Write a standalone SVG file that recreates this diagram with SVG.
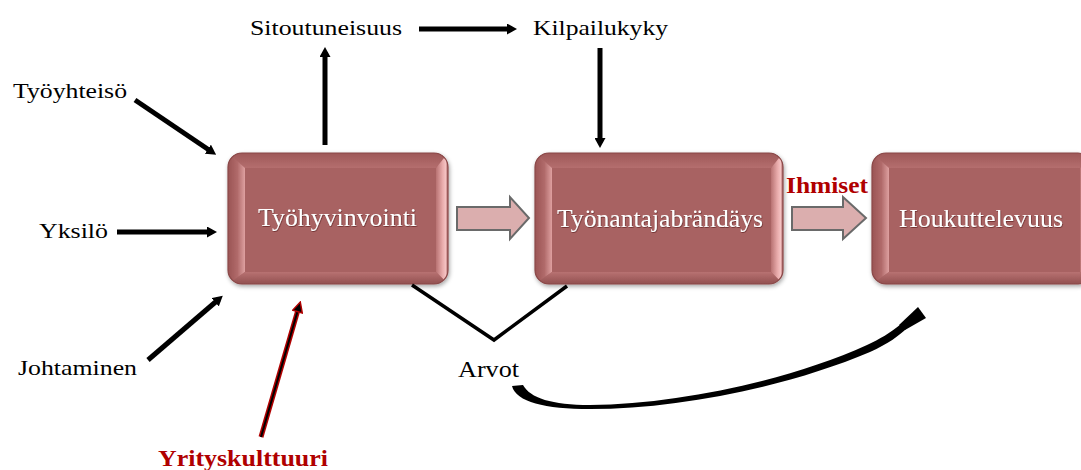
<svg xmlns="http://www.w3.org/2000/svg" width="1081" height="470" viewBox="0 0 1081 470">
  <style>
    .lbl { font-family: "Liberation Serif", "Times New Roman", serif; font-size: 22px; fill: #000; }
    .red { font-family: "Liberation Serif", "Times New Roman", serif; font-size: 24px; font-weight: bold; fill: #B00000; }
    .boxtxt { font-family: "Liberation Serif", "Times New Roman", serif; font-size: 25px; fill: #fff; filter: url(#txtShadow); }
    .face { fill: #A86262; }
    .rim { fill: none; stroke: #8A4848; stroke-width: 1.2; }
    .bl { fill: url(#gLeft); }
    .bt { fill: url(#gTop); }
    .br { fill: url(#gRight); }
    .bb { fill: url(#gBottom); }
    .conn { stroke: #000; stroke-width: 5; fill: none; marker-end: url(#head); }
    .block { fill: #DBAEAE; stroke: #6A6A6A; stroke-width: 2; stroke-linejoin: miter; }
  </style>
  <defs>
    <marker id="head" viewBox="0 0 10 11" refX="5" refY="5.5" markerWidth="10" markerHeight="11" markerUnits="userSpaceOnUse" orient="auto">
      <path d="M0,0 L10,5.5 L0,11 Z" fill="#000"/>
    </marker>
    <marker id="headRed" viewBox="0 0 12 12" refX="5" refY="6" markerWidth="12" markerHeight="12" markerUnits="userSpaceOnUse" orient="auto">
      <path d="M1,1 L11,6 L1,11 Z" fill="#000" stroke="#B00000" stroke-width="1.5"/>
    </marker>
    <linearGradient id="gLeft" x1="0" y1="0" x2="1" y2="0">
      <stop offset="0" stop-color="#9A5454"/>
      <stop offset="0.55" stop-color="#B06A6A"/>
      <stop offset="1" stop-color="#DEA0A0"/>
    </linearGradient>
    <linearGradient id="gTop" x1="0" y1="0" x2="0" y2="1">
      <stop offset="0" stop-color="#9E5858"/>
      <stop offset="1" stop-color="#B46E6E"/>
    </linearGradient>
    <linearGradient id="gRight" x1="0" y1="0" x2="1" y2="0">
      <stop offset="0" stop-color="#B87272"/>
      <stop offset="0.55" stop-color="#E9ACAC"/>
      <stop offset="0.8" stop-color="#F4C2C2"/>
      <stop offset="1" stop-color="#A25C5C"/>
    </linearGradient>
    <linearGradient id="gBottom" x1="0" y1="0" x2="0" y2="1">
      <stop offset="0" stop-color="#B87272"/>
      <stop offset="1" stop-color="#925050"/>
    </linearGradient>
    <filter id="boxShadow" x="-10%" y="-10%" width="120%" height="130%">
      <feDropShadow dx="1" dy="2" stdDeviation="2" flood-color="#000" flood-opacity="0.35"/>
    </filter>
    <filter id="txtShadow" x="-5%" y="-20%" width="110%" height="140%">
      <feDropShadow dx="0.6" dy="0.8" stdDeviation="0.5" flood-color="#5A2222" flood-opacity="0.8"/>
    </filter>
    <clipPath id="clip1"><rect x="228" y="153" width="220" height="131" rx="14"/></clipPath>
    <clipPath id="clip2"><rect x="535" y="153" width="248" height="131" rx="14"/></clipPath>
    <clipPath id="clip3"><rect x="872" y="153" width="220" height="131" rx="14"/></clipPath>
  </defs>

  <rect width="1081" height="470" fill="#fff"/>

  <!-- beveled process boxes -->
  <g id="tyohyvinvointi" filter="url(#boxShadow)">
    <g clip-path="url(#clip1)">
      <rect class="face" x="228" y="153" width="220" height="131"/>
      <polygon class="bt" points="228,153 448,153 436,168 245,168"/>
      <polygon class="bl" points="228,153 245,168 245,272 228,284"/>
      <polygon class="br" points="448,153 448,284 436,272 436,168"/>
      <polygon class="bb" points="228,284 245,272 436,272 448,284"/>
    </g>
    <rect class="rim" x="228" y="153" width="220" height="131" rx="14"/>
    <text class="boxtxt" x="258" y="226" textLength="159" lengthAdjust="spacingAndGlyphs">Työhyvinvointi</text>
  </g>

  <g id="tyonantajabrandays" filter="url(#boxShadow)">
    <g clip-path="url(#clip2)">
      <rect class="face" x="535" y="153" width="248" height="131"/>
      <polygon class="bt" points="535,153 783,153 771,168 552,168"/>
      <polygon class="bl" points="535,153 552,168 552,272 535,284"/>
      <polygon class="br" points="783,153 783,284 771,272 771,168"/>
      <polygon class="bb" points="535,284 552,272 771,272 783,284"/>
    </g>
    <rect class="rim" x="535" y="153" width="248" height="131" rx="14"/>
    <text class="boxtxt" x="557" y="227" textLength="206" lengthAdjust="spacingAndGlyphs">Työnantajabrändäys</text>
  </g>

  <g id="houkuttelevuus" filter="url(#boxShadow)">
    <g clip-path="url(#clip3)">
      <rect class="face" x="872" y="153" width="220" height="131"/>
      <polygon class="bt" points="872,153 1092,153 1080,168 889,168"/>
      <polygon class="bl" points="872,153 889,168 889,272 872,284"/>
      <polygon class="br" points="1092,153 1092,284 1080,272 1080,168"/>
      <polygon class="bb" points="872,284 889,272 1080,272 1092,284"/>
    </g>
    <rect class="rim" x="872" y="153" width="220" height="131" rx="14"/>
    <text class="boxtxt" x="899" y="227" textLength="164" lengthAdjust="spacingAndGlyphs">Houkuttelevuus</text>
  </g>

  <!-- free-standing labels -->
  <g id="sitoutuneisuus"><text class="lbl" x="250" y="35" textLength="152" lengthAdjust="spacingAndGlyphs">Sitoutuneisuus</text></g>
  <g id="kilpailukyky"><text class="lbl" x="533" y="35" textLength="135" lengthAdjust="spacingAndGlyphs">Kilpailukyky</text></g>
  <g id="tyoyhteiso"><text class="lbl" x="13" y="98" textLength="114" lengthAdjust="spacingAndGlyphs">Työyhteisö</text></g>
  <g id="yksilo"><text class="lbl" x="39" y="238" textLength="69" lengthAdjust="spacingAndGlyphs">Yksilö</text></g>
  <g id="johtaminen"><text class="lbl" x="18" y="375" textLength="119" lengthAdjust="spacingAndGlyphs">Johtaminen</text></g>
  <g id="yrityskulttuuri"><text class="red" x="158" y="466" textLength="170" lengthAdjust="spacingAndGlyphs">Yrityskulttuuri</text></g>
  <g id="arvot"><text class="lbl" x="458" y="377" style="font-size:24px" textLength="61" lengthAdjust="spacingAndGlyphs">Arvot</text></g>
  <g id="ihmiset"><text class="red" x="786" y="193" textLength="82" lengthAdjust="spacingAndGlyphs">Ihmiset</text></g>

  <!-- connectors -->
  <g id="connectors">
    <line class="conn" x1="135" y1="100" x2="212" y2="152"/>
    <line class="conn" x1="117" y1="232" x2="212" y2="232"/>
    <line class="conn" x1="148" y1="360" x2="219" y2="299"/>
    <line class="conn" x1="325" y1="145" x2="325" y2="52"/>
    <line class="conn" x1="419" y1="29" x2="512" y2="29"/>
    <line class="conn" x1="600" y1="48" x2="600" y2="143"/>

    <!-- red-rimmed arrow from Yrityskulttuuri -->
    <line x1="261" y1="437" x2="298.6" y2="307.8" stroke="#B00000" stroke-width="5"/>
    <line x1="261" y1="437" x2="298.6" y2="307.8" stroke="#000" stroke-width="2" marker-end="url(#headRed)"/>

    <!-- block arrows between boxes -->
    <path class="block" d="M457,207 H510 V197 L529,218 L510,239 V230 H457 Z"/>
    <path class="block" d="M792,207 H843 V197 L866,218 L843,239 V230 H792 Z"/>

    <!-- values link under the first two boxes -->
    <polyline points="412,285 494,340 567,286" fill="none" stroke="#000" stroke-width="3.5" stroke-linejoin="miter"/>

    <!-- tapering sweep from Arvot to Houkuttelevuus -->
    <path d="M512,386 C516,402 545,409 590,409 C680,409 790,386 870,352 C888,344 900,335 907,328 L901,324 C890,333 880,339 867,345 C790,380 680,404 590,405 C552,405 530,398 523,385 Z" fill="#000"/>
    <polygon points="918,307 926,318 905,330 899,325" fill="#000"/>
  </g>
</svg>
